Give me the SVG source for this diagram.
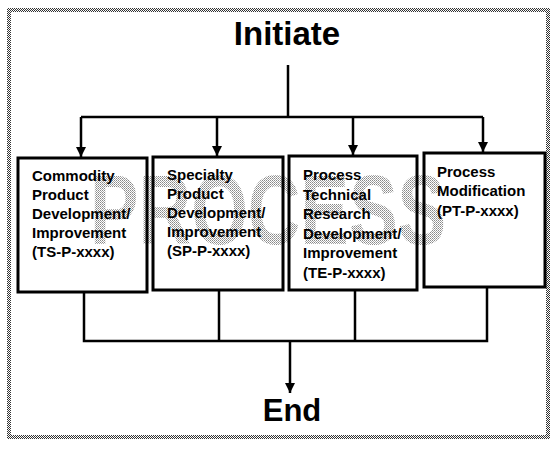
<svg xmlns="http://www.w3.org/2000/svg" width="553" height="450" viewBox="0 0 553 450">
  <defs>
    <!-- halftone textures -->
    <pattern id="dither50" width="2" height="2" patternUnits="userSpaceOnUse">
      <rect width="2" height="2" fill="#ffffff"/>
      <rect x="0" y="0" width="1" height="1" fill="#333"/>
      <rect x="1" y="1" width="1" height="1" fill="#333"/>
    </pattern>
    <pattern id="dither25" width="2" height="2" patternUnits="userSpaceOnUse">
      <rect width="2" height="2" fill="#ffffff"/>
      <rect x="0" y="0" width="1" height="1" fill="#888"/>
      <rect x="1" y="1" width="1" height="1" fill="#aaa"/>
    </pattern>
    <marker id="arrow" viewBox="0 0 10 10" refX="10" refY="5" markerWidth="4" markerHeight="4" markerUnits="strokeWidth" orient="auto">
      <path d="M0,0 L10,5 L0,10 Z" fill="#000"/>
    </marker>
    <style>
      .frame { fill: none; stroke: url(#dither50); stroke-width: 4; }
      .box { fill: none; stroke: #000; stroke-width: 3; }
      .label { font-family: "Liberation Sans", Arial, sans-serif; font-size: 15px; font-weight: bold; fill: #000; }
      .title { font-family: "Liberation Sans", Arial, sans-serif; font-weight: bold; fill: #000; text-anchor: middle; }
      .wire { fill: none; stroke: #000; stroke-width: 2.5; }
      .watermark { font-family: "Liberation Sans", Arial, sans-serif; font-size: 98px; font-weight: bold; fill: url(#dither25); }
    </style>
  </defs>

  <rect width="553" height="450" fill="#ffffff"/>

  <!-- outer frame -->
  <rect class="frame" x="9" y="10" width="539" height="427"/>

  <!-- background watermark -->
  <text class="watermark" x="90" y="244" textLength="356" lengthAdjust="spacingAndGlyphs">PROCESS</text>

  <!-- start / end labels -->
  <g id="initiate">
    <text class="title" x="287" y="45" font-size="33">Initiate</text>
  </g>
  <g id="end">
    <text class="title" x="292" y="421" font-size="31">End</text>
  </g>

  <!-- connectors -->
  <g id="connectors">
    <path class="wire" d="M288,65 V117"/>
    <path class="wire" d="M81,117 H483"/>
    <path class="wire" d="M81,117 V157" marker-end="url(#arrow)"/>
    <path class="wire" d="M217,117 V156" marker-end="url(#arrow)"/>
    <path class="wire" d="M353,117 V155" marker-end="url(#arrow)"/>
    <path class="wire" d="M483,117 V152" marker-end="url(#arrow)"/>
    <path class="wire" d="M84,292 V341 H487 V287"/>
    <path class="wire" d="M219,290 V341"/>
    <path class="wire" d="M355,290 V341"/>
    <path class="wire" d="M290,341 V393" marker-end="url(#arrow)"/>
  </g>

  <g id="commodity">
    <rect class="box" x="18" y="158" width="129" height="134"/>
    <text class="label"><tspan x="32" y="181">Commodity</tspan><tspan x="32" y="200">Product</tspan><tspan x="32" y="219">Development/</tspan><tspan x="32" y="238">Improvement</tspan><tspan x="32" y="257">(TS-P-xxxx)</tspan></text>
  </g>

  <g id="specialty">
    <rect class="box" x="153" y="157" width="130" height="133"/>
    <text class="label"><tspan x="167" y="180">Specialty</tspan><tspan x="167" y="199">Product</tspan><tspan x="167" y="218">Development/</tspan><tspan x="167" y="237">Improvement</tspan><tspan x="167" y="256">(SP-P-xxxx)</tspan></text>
  </g>

  <g id="process-technical">
    <rect class="box" x="289" y="156" width="128" height="134"/>
    <text class="label"><tspan x="303" y="180">Process</tspan><tspan x="303" y="200">Technical</tspan><tspan x="303" y="219">Research</tspan><tspan x="303" y="239">Development/</tspan><tspan x="303" y="258">Improvement</tspan><tspan x="303" y="278">(TE-P-xxxx)</tspan></text>
  </g>

  <g id="process-modification">
    <rect class="box" x="424" y="153" width="121" height="134"/>
    <text class="label"><tspan x="437" y="177">Process</tspan><tspan x="437" y="196">Modification</tspan><tspan x="437" y="216">(PT-P-xxxx)</tspan></text>
  </g>
</svg>
